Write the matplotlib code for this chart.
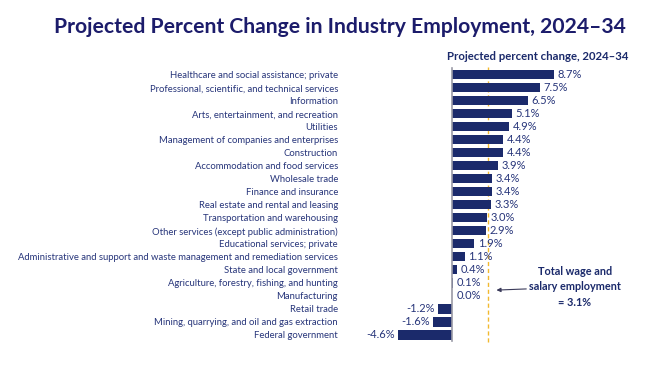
import numpy as np
import matplotlib.pyplot as plt

plt.rcParams['font.family'] = ['Lato', 'DejaVu Sans']

industries = [
    'Healthcare and social assistance; private',
    'Professional, scientific, and technical services',
    'Information',
    'Arts, entertainment, and recreation',
    'Utilities',
    'Management of companies and enterprises',
    'Construction',
    'Accommodation and food services',
    'Wholesale trade',
    'Finance and insurance',
    'Real estate and rental and leasing',
    'Transportation and warehousing',
    'Other services (except public administration)',
    'Educational services; private',
    'Administrative and support and waste management and remediation services',
    'State and local government',
    'Agriculture, forestry, fishing, and hunting',
    'Manufacturing',
    'Retail trade',
    'Mining, quarrying, and oil and gas extraction',
    'Federal government',
]
pct_change = [8.7, 7.5, 6.5, 5.1, 4.9, 4.4, 4.4, 3.9, 3.4, 3.4, 3.3,
              3.0, 2.9, 1.9, 1.1, 0.4, 0.1, 0.0, -1.2, -1.6, -4.6]
total_change = 3.1

navy = '#1b2a6b'
text_c = '#27357a'
gold = '#f2b92f'

W, H = 664, 380
fig = plt.figure(figsize=(W / 100, H / 100), dpi=100)
# axes placed in pixel units
x0, x1 = 393.5, 569
y_top, y_bot = 67, 345
ax = fig.add_axes([x0 / W, 1 - y_bot / H, (x1 - x0) / W, (y_bot - y_top) / H])

y = np.arange(len(industries))
ax.barh(y, pct_change, height=0.7, color=navy, zorder=2)
ax.set_xlim(-5, 10)
ax.set_ylim(20.77, -0.6)

ax.set_yticks(y)
ax.set_yticklabels(industries, fontsize=6.85, color=text_c)
ax.tick_params(axis='y', length=0, pad=40)
ax.set_xticks([])
for s in ax.spines.values():
    s.set_visible(False)

ax.plot([0, 0], [-0.55, 20.45], color='#9a9aa6', lw=1.2, zorder=3)
ax.plot([total_change, total_change], [-0.6, 20.77], color=gold, lw=1,
        ls=(0, (3, 2)), zorder=1)

for yi, v in zip(y, pct_change):
    if v < 0:
        ax.text(v - 0.3, yi, f'{v:.1f}%', ha='right', va='center',
                fontsize=8, color=text_c)
    else:
        ax.text(max(v, 0.1) + 0.3, yi, f'{v:.1f}%', ha='left', va='center',
                fontsize=8, color=text_c)

fig.text(340 / W, 1 - 27 / H, 'Projected Percent Change in Industry Employment, 2024\u201334',
         ha='center', va='center', fontsize=15.2, fontweight='bold', color='#1c1c6b')
fig.text(538 / W, 1 - 57 / H, 'Projected percent change, 2024\u201334',
         ha='center', va='center', fontsize=8.2, fontweight='bold', color=navy)

ax.annotate('Total wage and\nsalary employment\n= 3.1%',
            xy=(3.8, 16.55), xycoords='data',
            xytext=(575 / W, 1 - 287 / H), textcoords='figure fraction',
            ha='center', va='center', fontsize=7.8, fontweight='bold',
            color=navy, linespacing=1.5,
            arrowprops=dict(arrowstyle='-|>', color='#3a3a5a', lw=0.8,
                            mutation_scale=6, shrinkA=48, shrinkB=0))

fig.savefig('out.png', dpi=100)
